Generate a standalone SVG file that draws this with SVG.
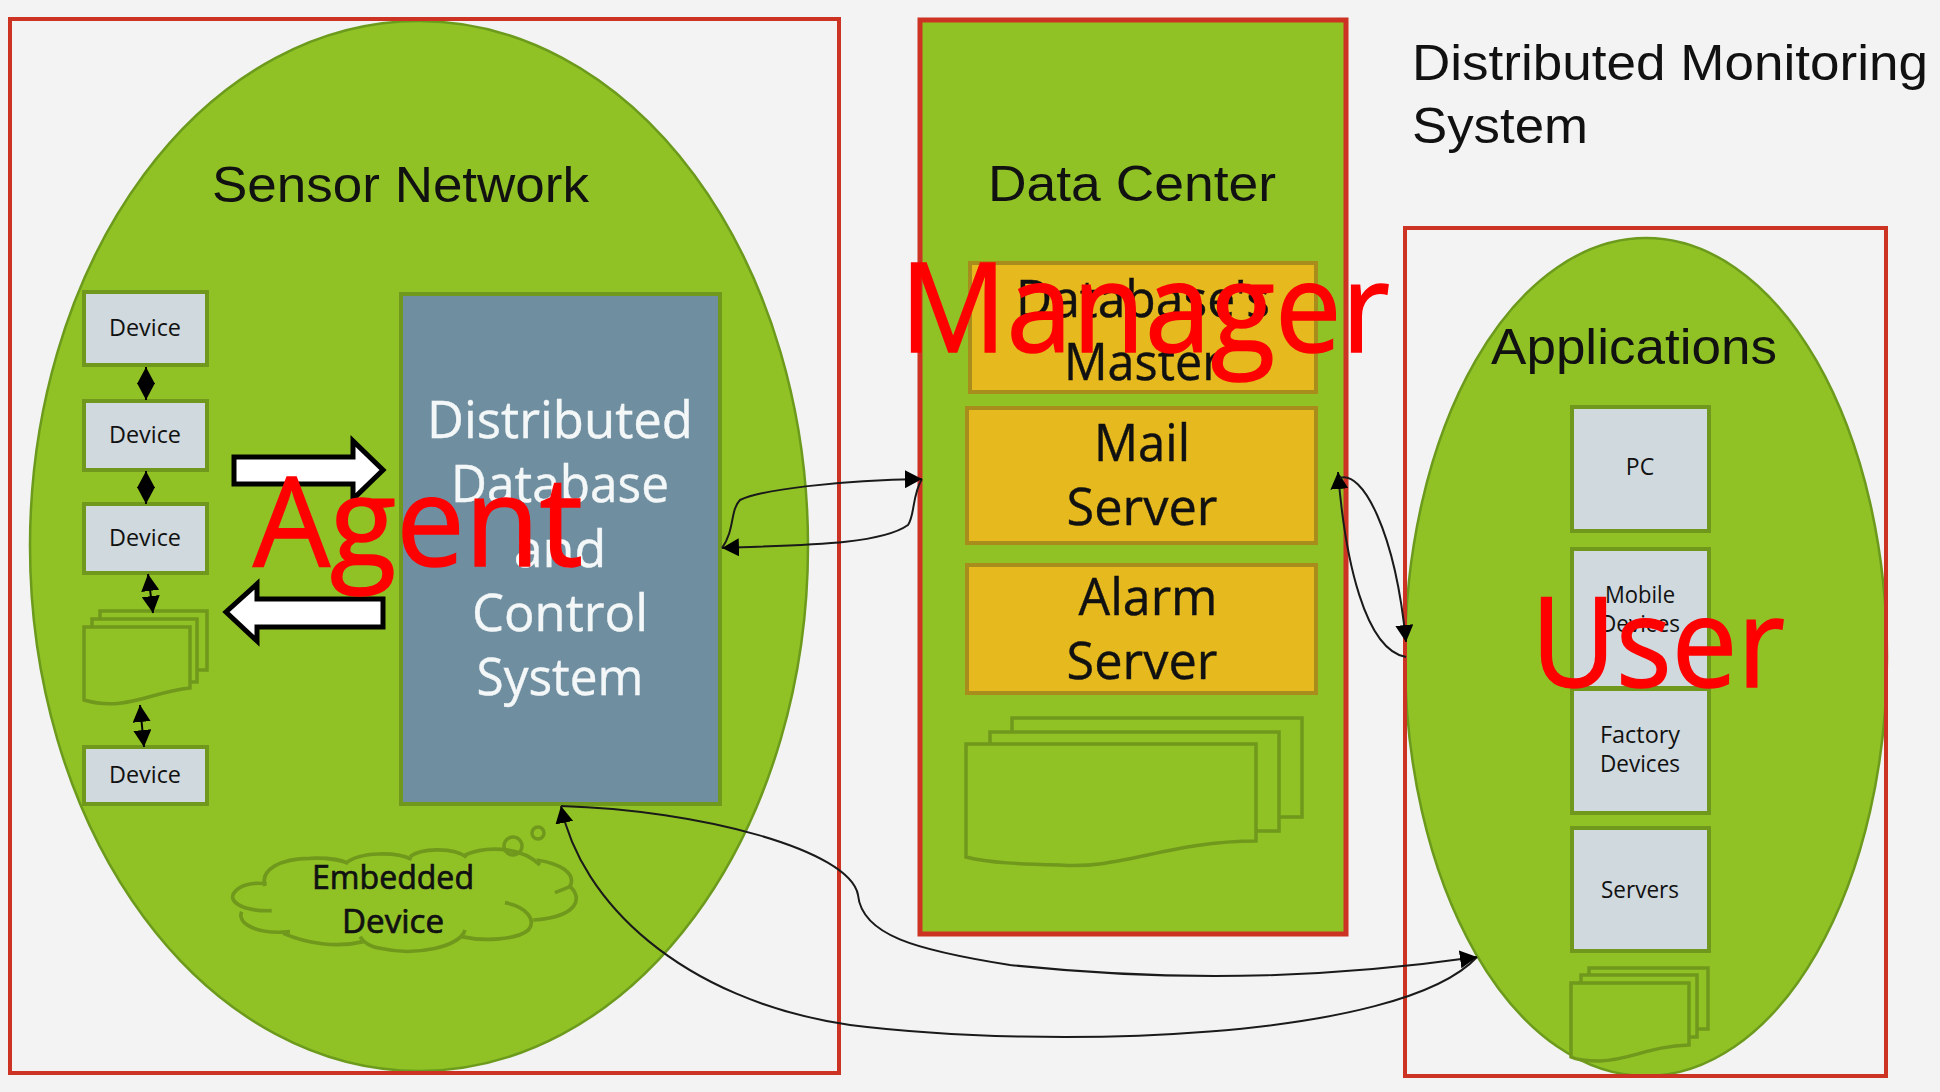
<svg xmlns="http://www.w3.org/2000/svg" width="1940" height="1092" viewBox="0 0 1940 1092">
  <style>
    text { font-family: "Open Sans", "Noto Sans", "DejaVu Sans", sans-serif; fill: #111; text-anchor: middle; }
    .zone { fill: none; stroke: #cc3322; stroke-width: 4; }
    .oval { fill: #90c226; stroke: #6c9a1c; stroke-width: 2.5; }
    .dev { fill: #cfd9de; stroke: #6f981c; stroke-width: 4; }
    .srv { fill: #e6b91e; stroke: #a88c1c; stroke-width: 4; }
    .doc { fill: #90c226; stroke: #6f981c; stroke-width: 3.5; }
    .outline { fill: none; stroke: #6f981c; stroke-width: 3.5; }
    .flow { fill: #fff; stroke: #000; stroke-width: 5; }
    .link { fill: none; stroke: #1a1a1a; stroke-width: 2; marker-end: url(#head); }
    .duplex { fill: none; stroke: #000; stroke-width: 2; marker-start: url(#head); marker-end: url(#head); }
    .head { font-family: "Liberation Sans", Arial, sans-serif; font-size: 50px; text-anchor: start; }
    .small { font-size: 23px; }
    .big { font-size: 52px; stroke: #111; stroke-width: 0.4; }
    .big.white { fill: #f4f7f8; stroke: #f4f7f8; }
    .role { font-size: 125px; fill: #ff0000; stroke: #ff0000; stroke-width: 1.5; }
  </style>
  <defs>
    <marker id="head" viewBox="0 0 17 18" refX="17" refY="9" markerWidth="17" markerHeight="18" markerUnits="userSpaceOnUse" orient="auto-start-reverse">
      <path d="M0,0 L17,9 L0,18 Z" fill="#000"/>
    </marker>
  </defs>

  <rect width="1940" height="1092" fill="#f3f3f3"/>

  <g id="sensor-network">
    <ellipse class="oval" cx="419" cy="546" rx="389" ry="525"/>
    <rect class="zone" x="10" y="19" width="829" height="1054"/>
    <text class="head" x="212" y="202" textLength="377" lengthAdjust="spacingAndGlyphs">Sensor Network</text>
  </g>
  <g id="device-1"><rect class="dev" x="84" y="292" width="123" height="73"/><text class="small" x="145" y="336" textLength="72" lengthAdjust="spacingAndGlyphs">Device</text></g>
  <g id="device-2"><rect class="dev" x="84" y="401" width="123" height="69"/><text class="small" x="145" y="443" textLength="72" lengthAdjust="spacingAndGlyphs">Device</text></g>
  <g id="device-3"><rect class="dev" x="84" y="504" width="123" height="69"/><text class="small" x="145" y="546" textLength="72" lengthAdjust="spacingAndGlyphs">Device</text></g>
  <g id="device-stack">
    <path class="doc" d="M100,611 H207 V670 H100 Z"/>
    <path class="doc" d="M92,619 H197 V682 H92 Z"/>
    <path class="doc" d="M84,627 H190 V688 C150,692 125,712 84,700 Z"/>
  </g>
  <g id="device-4"><rect class="dev" x="84" y="747" width="123" height="57"/><text class="small" x="145" y="783" textLength="72" lengthAdjust="spacingAndGlyphs">Device</text></g>
  <g id="database-control">
    <rect x="401" y="294" width="319" height="510" fill="#6f8fa0" stroke="#6f981c" stroke-width="4"/>
    <text class="big white" x="560" y="438" textLength="266" lengthAdjust="spacingAndGlyphs">Distributed</text>
    <text class="big white" x="560" y="502" textLength="218" lengthAdjust="spacingAndGlyphs">Database</text>
    <text class="big white" x="560" y="567">and</text>
    <text class="big white" x="560" y="631" textLength="176" lengthAdjust="spacingAndGlyphs">Control</text>
    <text class="big white" x="560" y="695" textLength="167" lengthAdjust="spacingAndGlyphs">System</text>
  </g>
  <g id="embedded-device">
    <g transform="translate(220 780) scale(0.3333)">
      <path class="outline" style="stroke-width:11" d="M135,318 C120,270 180,235 270,235 C320,233 365,240 385,250 M380,248 C420,215 530,215 575,238 M570,230 C600,205 700,200 740,232 M735,225 C790,200 900,195 960,255 M950,240 C1020,250 1070,280 1050,320 L1005,338 M1045,315 C1090,350 1080,410 940,420 M855,368 C920,380 950,420 925,450 C890,480 790,485 725,470 M735,450 C720,500 590,530 480,505 C450,500 430,485 420,470 M430,485 C350,505 260,490 190,460 M210,455 C110,465 50,430 65,395 M155,392 C60,395 20,360 45,335 C60,315 100,305 140,312"/>
    </g>
    <circle class="outline" cx="513" cy="846" r="9"/>
    <circle class="outline" cx="538" cy="833" r="6"/>
    <text x="393" y="889" font-size="32" textLength="162" lengthAdjust="spacingAndGlyphs" stroke="#111" stroke-width="0.7">Embedded</text>
    <text x="393" y="933" font-size="32" textLength="102" lengthAdjust="spacingAndGlyphs" stroke="#111" stroke-width="0.7">Device</text>
  </g>
  <g id="flow-out"><path class="flow" d="M234,457 H353 V441 L383,470 L353,499 V484 H234 Z"/></g>
  <g id="flow-in"><path class="flow" d="M383,599 V627 H257 V641 L226,612 L257,584 V599 Z"/></g>

  <g id="data-center">
    <rect x="919" y="21" width="427" height="913" fill="#90c226"/>
    <rect x="920" y="20" width="426" height="914" fill="none" stroke="#cc3322" stroke-width="5"/>
    <text class="head" x="988" y="201" textLength="288" lengthAdjust="spacingAndGlyphs">Data Center</text>
  </g>
  <g id="database-master">
    <rect class="srv" x="970" y="263" width="346" height="129"/>
    <text class="big" x="1143" y="317" textLength="254" lengthAdjust="spacingAndGlyphs">Database's</text>
    <text class="big" x="1143" y="380" textLength="158" lengthAdjust="spacingAndGlyphs">Master</text>
  </g>
  <g id="mail-server">
    <rect class="srv" x="967" y="408" width="349" height="135"/>
    <text class="big" x="1142" y="461" textLength="96" lengthAdjust="spacingAndGlyphs">Mail</text>
    <text class="big" x="1142" y="525" textLength="151" lengthAdjust="spacingAndGlyphs">Server</text>
  </g>
  <g id="alarm-server">
    <rect class="srv" x="967" y="565" width="349" height="128"/>
    <text class="big" x="1148" y="615" textLength="139" lengthAdjust="spacingAndGlyphs">Alarm</text>
    <text class="big" x="1142" y="679" textLength="151" lengthAdjust="spacingAndGlyphs">Server</text>
  </g>
  <g id="server-stack">
    <path class="doc" d="M1012,718 H1302 V817 H1012 Z"/>
    <path class="doc" d="M990,732 H1279 V831 H990 Z"/>
    <path class="doc" d="M966,744 H1256 V841 C1170,841 1120,870 1060,865 C1020,864 990,863 966,857 Z"/>
  </g>

  <g id="applications">
    <ellipse class="oval" cx="1646" cy="657" rx="241" ry="419"/>
    <rect class="zone" x="1405" y="228" width="481" height="848"/>
    <text class="head" x="1491" y="364" textLength="286" lengthAdjust="spacingAndGlyphs">Applications</text>
  </g>
  <g id="pc"><rect class="dev" x="1572" y="407" width="137" height="124"/><text class="small" x="1640" y="475">PC</text></g>
  <g id="mobile-devices"><rect class="dev" x="1572" y="549" width="137" height="139"/><text class="small" x="1640" y="603" textLength="70" lengthAdjust="spacingAndGlyphs">Mobile</text><text class="small" x="1640" y="632" textLength="80" lengthAdjust="spacingAndGlyphs">Devices</text></g>
  <g id="factory-devices"><rect class="dev" x="1572" y="689" width="137" height="124"/><text class="small" x="1640" y="743" textLength="80" lengthAdjust="spacingAndGlyphs">Factory</text><text class="small" x="1640" y="772" textLength="80" lengthAdjust="spacingAndGlyphs">Devices</text></g>
  <g id="servers"><rect class="dev" x="1572" y="828" width="137" height="123"/><text class="small" x="1640" y="898" textLength="78" lengthAdjust="spacingAndGlyphs">Servers</text></g>
  <g id="app-stack">
    <path class="doc" d="M1589,968 H1708 V1029 H1589 Z"/>
    <path class="doc" d="M1581,975 H1697 V1037 H1581 Z"/>
    <path class="doc" d="M1571,983 H1689 V1045 C1650,1046 1630,1060 1600,1061 C1585,1061 1575,1059 1571,1057 Z"/>
  </g>

  <g id="connectors">
    <line class="duplex" x1="146" y1="367" x2="146" y2="400"/>
    <line class="duplex" x1="146" y1="471" x2="146" y2="504"/>
    <line class="duplex" x1="148" y1="574" x2="153" y2="613"/>
    <line class="duplex" x1="140" y1="705" x2="144" y2="747"/>
    <path class="link" d="M922,479 C912,495 915,515 908,525 C880,545 800,545 722,548"/>
    <path class="link" d="M722,548 C735,530 730,510 740,500 C760,490 840,480 922,479"/>
    <path class="link" d="M1406,657 C1365,650 1345,560 1338,472"/>
    <path class="link" d="M1340,478 C1362,470 1395,530 1406,642"/>
    <path class="link" d="M1477,957 C1400,1040 1050,1050 850,1025 C680,1000 580,900 561,806"/>
    <path class="link" d="M561,806 C700,810 850,850 858,895 C862,935 915,950 1010,965 C1200,985 1350,975 1477,957"/>
  </g>

  <g id="captions">
    <text class="head" x="1412" y="80" textLength="516" lengthAdjust="spacingAndGlyphs">Distributed Monitoring</text>
    <text class="head" x="1412" y="143" textLength="176" lengthAdjust="spacingAndGlyphs">System</text>
    <text class="role" x="418" y="566" textLength="330" lengthAdjust="spacingAndGlyphs">Agent</text>
    <text class="role" x="1145" y="352" textLength="490" lengthAdjust="spacingAndGlyphs">Manager</text>
    <text class="role" x="1658" y="687" textLength="254" lengthAdjust="spacingAndGlyphs">User</text>
  </g>
</svg>
